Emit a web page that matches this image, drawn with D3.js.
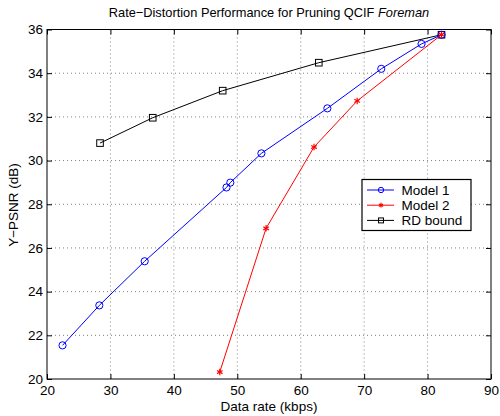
<!DOCTYPE html>
<html><head><meta charset="utf-8">
<script src="https://cdn.jsdelivr.net/npm/d3@7"></script>
<style>body{margin:0;background:#fff}svg{display:block}text{font-family:"Liberation Sans",Arial,sans-serif}</style>
</head><body>
<svg id="c" width="500" height="416"></svg>
<script>
const xTicks=[20,30,40,50,60,70,80,90];
const yTicks=[20,22,24,26,28,30,32,34,36];
const model1X=[22.45,28.25,35.4,48.3,48.9,53.8,64.2,72.7,79.05,82.2];
const model1Y=[21.54,23.37,25.39,28.77,28.99,30.33,32.39,34.2,35.34,35.76];
const model2X=[47.24,54.54,62.1,68.9,82.2];
const model2Y=[20.32,26.9,30.62,32.73,35.76];
const rdX=[28.36,36.67,47.7,62.85,82.2];
const rdY=[30.8,31.96,33.2,34.48,35.76];
const seriesNames=["Model 1","Model 2","RD bound"];

const svg=d3.select("#c");
const L=47,R=491,T=29.5,B=379;
const FS=13.5;
const x=d3.scaleLinear().domain([20,90]).range([L,R]);
const y=d3.scaleLinear().domain([20,36]).range([B,T]);

// grid
const g=svg.append("g");
g.selectAll(".gx").data(xTicks.slice(1,-1)).enter().append("line")
 .attr("x1",d=>x(d)).attr("x2",d=>x(d)).attr("y1",T).attr("y2",B)
 .attr("stroke","#808080").attr("stroke-width",1).attr("stroke-dasharray","1,3");
g.selectAll(".gy").data(yTicks.slice(1,-1)).enter().append("line")
 .attr("y1",d=>y(d)).attr("y2",d=>y(d)).attr("x1",L).attr("x2",R)
 .attr("stroke","#808080").attr("stroke-width",1).attr("stroke-dasharray","1,3");

// axes
const ax=svg.append("g").attr("transform",`translate(0,${B})`)
 .call(d3.axisBottom(x).tickValues(xTicks).tickSize(-5).tickPadding(6).tickFormat(d3.format("d")));
const axT=svg.append("g").attr("transform",`translate(0,${T})`)
 .call(d3.axisTop(x).tickValues(xTicks).tickSize(-5).tickFormat(""));
const ay=svg.append("g").attr("transform",`translate(${L},0)`)
 .call(d3.axisLeft(y).tickValues(yTicks).tickSize(-5).tickPadding(4).tickFormat(d3.format("d")));
const ayR=svg.append("g").attr("transform",`translate(${R},0)`)
 .call(d3.axisRight(y).tickValues(yTicks).tickSize(-5).tickFormat(""));
[ax,axT,ay,ayR].forEach(a=>{a.select(".domain").remove();a.selectAll("line").attr("stroke","#000");
 a.selectAll("text").attr("font-size",FS).attr("fill","#000").attr("font-family","Liberation Sans, Arial, sans-serif");});
svg.append("rect").attr("x",L).attr("y",T).attr("width",R-L).attr("height",B-T)
 .attr("fill","none").attr("stroke","#000").attr("stroke-width",1);

const line=d3.line().x(d=>x(d[0])).y(d=>y(d[1]));
const z=(a,b)=>a.map((v,i)=>[v,b[i]]);
const d1=z(model1X,model1Y),d2=z(model2X,model2Y),d3d=z(rdX,rdY);

function circle(sel,px,py,col,k=1){sel.append("circle").attr("cx",px).attr("cy",py).attr("r",3.6*k).attr("fill","none").attr("stroke",col).attr("stroke-width",1);}
function star(sel,px,py,col,k=1){const s=3.2*k;
 [[0,s],[s*0.87,s*0.5],[s*0.87,-s*0.5]].forEach(([dx,dy])=>sel.append("line").attr("x1",px-dx).attr("x2",px+dx).attr("y1",py-dy).attr("y2",py+dy).attr("stroke",col).attr("stroke-width",1.2));}
function square(sel,px,py,col,k=1){const h=3.3*k;sel.append("rect").attr("x",px-h).attr("y",py-h).attr("width",2*h).attr("height",2*h).attr("fill","none").attr("stroke",col).attr("stroke-width",1);}

const series=[{d:d3d,c:"#000",m:square},{d:d1,c:"#0000ff",m:circle},{d:d2,c:"#ff0000",m:star}];
series.forEach(s=>{
 svg.append("path").datum(s.d).attr("d",line).attr("fill","none").attr("stroke",s.c).attr("stroke-width",1);
 const mg=svg.append("g");
 s.d.forEach(p=>s.m(mg,x(p[0]),y(p[1]),s.c));
});

// legend
const lg=svg.append("g");
lg.append("rect").attr("x",362).attr("y",179.5).attr("width",109).attr("height",51).attr("fill","#fff").attr("stroke","#000").attr("stroke-width",1.2);
const lcols=["#0000ff","#ff0000","#000"],lm=[circle,star,square];
seriesNames.forEach((n,i)=>{const yy=190+i*15.2;
 lg.append("line").attr("x1",367).attr("x2",394).attr("y1",yy).attr("y2",yy).attr("stroke",lcols[i]).attr("stroke-width",1);
 lm[i](lg,381,yy,lcols[i],0.75);
 lg.append("text").attr("x",401.5).attr("y",yy+4.8).attr("font-size",FS).attr("fill","#000").text(n);
});

// title & labels
const t=svg.append("text").attr("x",269).attr("y",17).attr("text-anchor","middle").attr("font-size",12.8).attr("fill","#000");
t.append("tspan").text("Rate\u2212Distortion Performance for Pruning QCIF ");
t.append("tspan").attr("font-style","italic").text("Foreman");
svg.append("text").attr("x",269).attr("y",411).attr("text-anchor","middle").attr("font-size",FS).attr("fill","#000").text("Data rate (kbps)");
svg.append("text").attr("transform","translate(17.5,205) rotate(-90)").attr("text-anchor","middle").attr("font-size",FS).attr("fill","#000").text("Y\u2212PSNR (dB)");
</script>
</body></html>
